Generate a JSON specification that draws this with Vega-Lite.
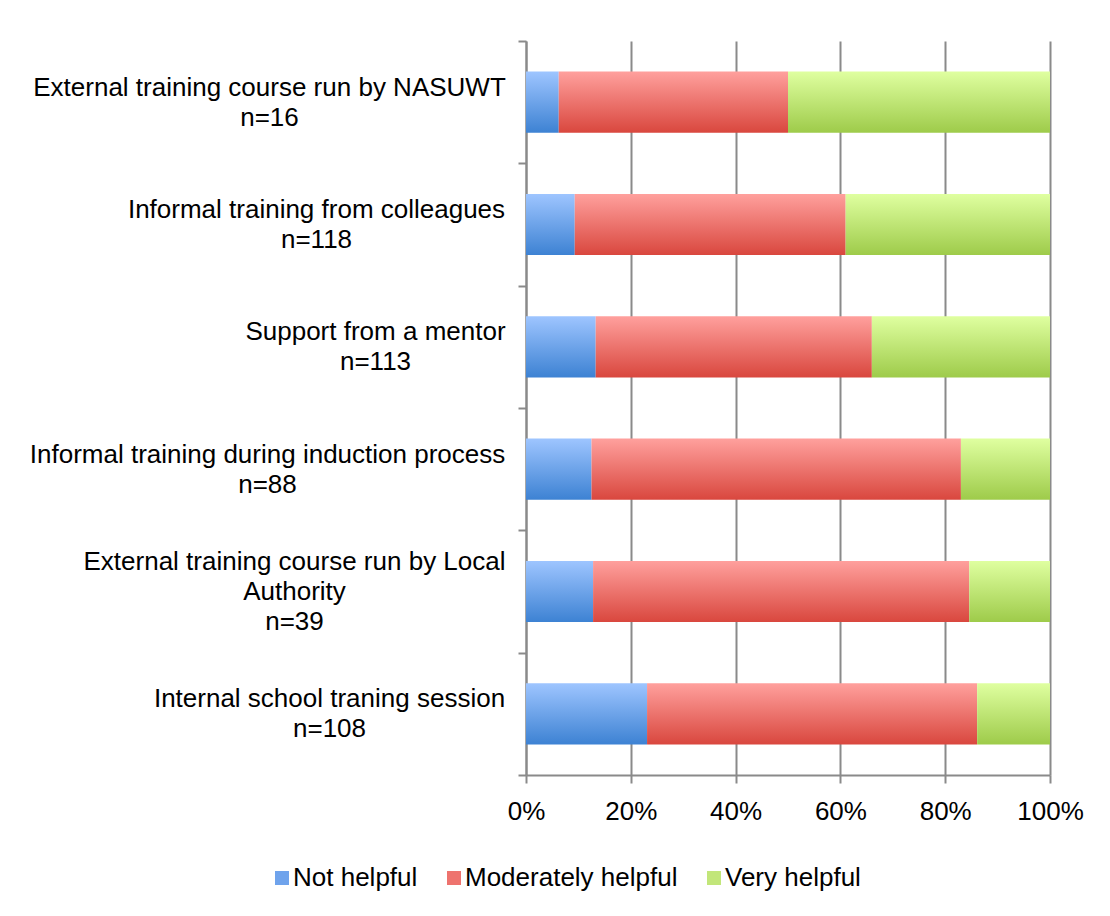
{
  "$schema": "https://vega.github.io/schema/vega-lite/v6.json",
  "width": 524,
  "height": 734,
  "autosize": {"type": "none"},
  "padding": {"left": 526, "top": 41, "right": 60, "bottom": 141},
  "background": "white",
  "config": {
    "font": "Liberation Sans",
    "view": {"stroke": null}
  },
  "data": {
    "values": [
      {"label": "External training course run by NASUWT|n=16", "category": "Not helpful", "value": 6.25},
      {"label": "External training course run by NASUWT|n=16", "category": "Moderately helpful", "value": 43.75},
      {"label": "External training course run by NASUWT|n=16", "category": "Very helpful", "value": 50.0},
      {"label": "Informal training from colleagues|n=118", "category": "Not helpful", "value": 9.3},
      {"label": "Informal training from colleagues|n=118", "category": "Moderately helpful", "value": 51.7},
      {"label": "Informal training from colleagues|n=118", "category": "Very helpful", "value": 39.0},
      {"label": "Support from a mentor|n=113", "category": "Not helpful", "value": 13.3},
      {"label": "Support from a mentor|n=113", "category": "Moderately helpful", "value": 52.7},
      {"label": "Support from a mentor|n=113", "category": "Very helpful", "value": 34.0},
      {"label": "Informal training during induction process|n=88", "category": "Not helpful", "value": 12.5},
      {"label": "Informal training during induction process|n=88", "category": "Moderately helpful", "value": 70.5},
      {"label": "Informal training during induction process|n=88", "category": "Very helpful", "value": 17.0},
      {"label": "External training course run by Local|Authority|n=39", "category": "Not helpful", "value": 12.8},
      {"label": "External training course run by Local|Authority|n=39", "category": "Moderately helpful", "value": 71.8},
      {"label": "External training course run by Local|Authority|n=39", "category": "Very helpful", "value": 15.4},
      {"label": "Internal school traning session|n=108", "category": "Not helpful", "value": 23.1},
      {"label": "Internal school traning session|n=108", "category": "Moderately helpful", "value": 63.0},
      {"label": "Internal school traning session|n=108", "category": "Very helpful", "value": 13.9}
    ]
  },
  "transform": [
    {"calculate": "indexof(['Not helpful','Moderately helpful','Very helpful'], datum.category)", "as": "k"}
  ],
  "mark": {"type": "bar", "height": {"band": 0.5}},
  "encoding": {
    "y": {
      "field": "label",
      "type": "nominal",
      "sort": null,
      "scale": {"paddingInner": 0, "paddingOuter": 0},
      "axis": {
        "title": null,
        "labelExpr": "split(datum.label, '|')",
        "labelAlign": "center",
        "labelBaseline": "middle",
        "labelLineHeight": 30,
        "labelFontSize": 26,
        "labelColor": "black",
        "labelLimit": 700,
        "labelOffset": {
          "condition": {"test": "datum.value === 'External training course run by Local|Authority|n=39'", "value": -30},
          "value": -15
        },
        "labelPadding": {
          "condition": [
            {"test": "datum.value === 'External training course run by NASUWT|n=16'", "value": 249},
            {"test": "datum.value === 'Informal training from colleagues|n=118'", "value": 202},
            {"test": "datum.value === 'Support from a mentor|n=113'", "value": 143},
            {"test": "datum.value === 'Informal training during induction process|n=88'", "value": 251},
            {"test": "datum.value === 'External training course run by Local|Authority|n=39'", "value": 224}
          ],
          "value": 189
        },
        "tickBand": "extent",
        "tickSize": 8,
        "tickColor": "#8a8a8a",
        "tickWidth": 2,
        "domainColor": "#8a8a8a",
        "domainWidth": 2,
        "grid": false
      }
    },
    "x": {
      "field": "value",
      "type": "quantitative",
      "stack": "normalize",
      "scale": {"domain": [0, 1]},
      "axis": {
        "title": null,
        "format": "%",
        "values": [0, 0.2, 0.4, 0.6, 0.8, 1],
        "labelFontSize": 26,
        "labelColor": "black",
        "labelPadding": 15,
        "labelFlush": false,
        "tickSize": 8,
        "tickColor": "#8a8a8a",
        "tickWidth": 2,
        "domainColor": "#8a8a8a",
        "domainWidth": 2,
        "grid": true,
        "gridColor": "#8a8a8a",
        "gridWidth": 2
      }
    },
    "color": {
      "field": "category",
      "type": "nominal",
      "scale": {
        "domain": ["Not helpful", "Moderately helpful", "Very helpful"],
        "range": ["#6fa3ec", "#ee736e", "#c2e67a"]
      },
      "condition": [
        {"test": "datum.category === 'Not helpful'", "value": {"gradient": "linear", "x1": 0, "y1": 0, "x2": 0, "y2": 1, "stops": [{"offset": 0, "color": "#9ec5ff"}, {"offset": 1, "color": "#3d82d3"}]}},
        {"test": "datum.category === 'Moderately helpful'", "value": {"gradient": "linear", "x1": 0, "y1": 0, "x2": 0, "y2": 1, "stops": [{"offset": 0, "color": "#ffa09d"}, {"offset": 1, "color": "#d9473e"}]}},
        {"test": "datum.category === 'Very helpful'", "value": {"gradient": "linear", "x1": 0, "y1": 0, "x2": 0, "y2": 1, "stops": [{"offset": 0, "color": "#dfffa0"}, {"offset": 1, "color": "#9ecb4a"}]}}
      ],
      "legend": {
        "orient": "none",
        "legendX": -257,
        "legendY": 824,
        "direction": "horizontal",
        "title": null,
        "symbolType": "square",
        "symbolSize": 196,
        "symbolStrokeWidth": 0,
        "labelFontSize": 26,
        "labelColor": "black",
        "labelOffset": -2,
        "labelLimit": 0,
        "columnPadding": 23
      }
    },
    "order": {"field": "k"}
  }
}
